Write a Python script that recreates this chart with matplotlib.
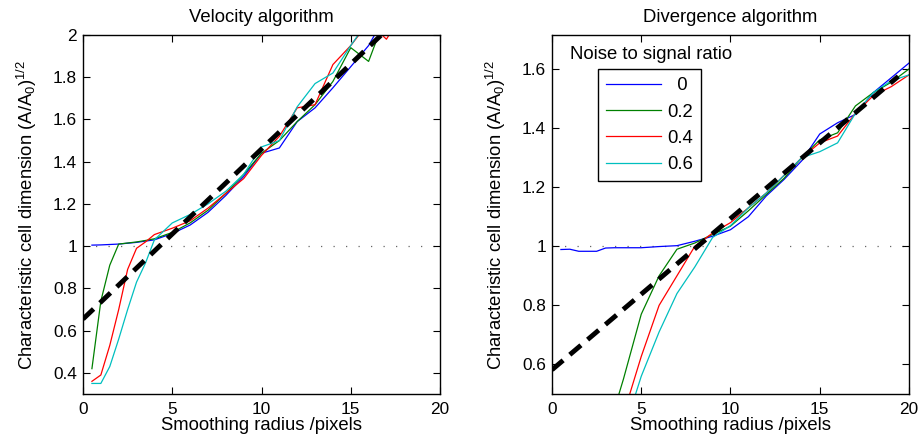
import numpy as np
import matplotlib
matplotlib.use("Agg")
import matplotlib.pyplot as plt

plt.rcParams['font.family'] = ['Liberation Sans', 'DejaVu Sans']
plt.rcParams['mathtext.default'] = 'regular'

nan = np.nan
radius = [0.5, 1, 1.5, 2, 2.5, 3, 3.5, 4, 5, 6, 7, 8, 9, 10, 11, 12, 13, 14, 15, 16, 17, 18, 19, 20]

noise_labels = ['  0', '0.2', '0.4', '0.6']
colors = ['#0000ff', '#008000', '#ff0000', '#00bfbf']

# Velocity algorithm
vel_0 = [1.005, 1.006, 1.008, 1.01, 1.014, 1.018, 1.024, 1.03, 1.06, 1.10, 1.16, 1.24, 1.33, 1.44, 1.465,
         1.59, 1.655, 1.75, 1.85, 1.95, 2.10, 2.20, 2.30, 2.40]
vel_2 = [0.42, 0.74, 0.91, 1.01, 1.015, 1.02, 1.027, 1.035, 1.065, 1.11, 1.17, 1.25, 1.34, 1.44, 1.50,
         1.59, 1.67, 1.78, 1.94, 1.875, 2.10, 2.20, 2.30, 2.40]
vel_4 = [0.36, 0.39, 0.53, 0.70, 0.89, 0.99, 1.02, 1.055, 1.085, 1.12, 1.18, 1.25, 1.32, 1.43, 1.52,
         1.655, 1.67, 1.86, 1.95, 2.06, 1.98, 2.12, 2.25, 2.35]
vel_6 = [0.35, 0.35, 0.43, 0.56, 0.70, 0.83, 0.92, 1.03, 1.11, 1.15, 1.20, 1.26, 1.34, 1.47, 1.50,
         1.66, 1.77, 1.82, 1.95, 2.07, 2.15, 2.25, 2.35, 2.45]
vel_fit_x = [0, 20]
vel_fit_y = [0.655, 2.265]

# Divergence algorithm
div_0 = [0.989, 0.99, 0.983, 0.983, 0.983, 0.994, 0.995, 0.995, 0.995, 0.999, 1.002, 1.017, 1.034, 1.056,
         1.10, 1.17, 1.226, 1.29, 1.38, 1.418, 1.446, 1.52, 1.57, 1.62]
div_2 = [nan, nan, nan, nan, nan, 0.34, 0.45, 0.55, 0.77, 0.90, 0.99, 1.011, 1.04, 1.068, 1.12, 1.175,
         1.23, 1.30, 1.36, 1.384, 1.475, 1.52, 1.555, 1.60]
div_4 = [nan, nan, nan, nan, nan, 0.25, 0.34, 0.43, 0.627, 0.80, 0.90, 1.0, 1.045, 1.08, 1.13, 1.18,
         1.24, 1.30, 1.35, 1.373, 1.45, 1.51, 1.54, 1.58]
div_6 = [nan, nan, nan, nan, nan, 0.20, 0.29, 0.37, 0.56, 0.71, 0.84, 0.93, 1.03, 1.07, 1.13, 1.18,
         1.24, 1.30, 1.32, 1.35, 1.45, 1.52, 1.56, 1.58]
div_fit_x = [0, 19.4]
div_fit_y = [0.582, 1.575]

fig = plt.figure(figsize=(9.2, 4.43), dpi=100)
ax1 = fig.add_axes([83/920, 49/443, 357/920, 359/443])
ax2 = fig.add_axes([552/920, 49/443, 357/920, 359/443])

FS = 13.3
TFS = 12.4


def style(ax, ylim, yticks, title):
    ax.set_xlim(0, 20)
    ax.set_ylim(*ylim)
    ax.set_xticks([0, 5, 10, 15, 20])
    ax.set_yticks(yticks)
    ax.set_yticklabels([('%g' % v) for v in yticks])
    ax.tick_params(direction='in', top=True, right=True, length=5, width=0.8, labelsize=TFS)
    ax.tick_params(axis='x', pad=5.5)
    ax.tick_params(axis='y', pad=4.3)
    for s in ax.spines.values():
        s.set_linewidth(1.0)
    ax.set_xlabel('Smoothing radius /pixels', fontsize=FS, labelpad=0)
    ax.set_ylabel('Characteristic cell dimension (A/A$_0$)$^{1/2}$', fontsize=FS, labelpad=10)
    ax.set_title(title, fontsize=FS, pad=9.6)


for ax, series, fx, fy in [(ax1, [vel_0, vel_2, vel_4, vel_6], vel_fit_x, vel_fit_y),
                          (ax2, [div_0, div_2, div_4, div_6], div_fit_x, div_fit_y)]:
    ax.axhline(1.0, color='0.4', lw=0.9, ls=(0, (1, 9)), zorder=1)
    for y, c, lab in zip(series, colors, noise_labels):
        ax.plot(radius, y, color=c, lw=0.9, label=lab, zorder=2)
    ax.plot(fx, fy, color='black', lw=3.5, ls=(0, (3, 1.8)), zorder=3)

style(ax1, (0.3, 2.0), [0.4, 0.6, 0.8, 1.0, 1.2, 1.4, 1.6, 1.8, 2.0], 'Velocity algorithm')
style(ax2, (0.5, 1.715), [0.6, 0.8, 1.0, 1.2, 1.4, 1.6], 'Divergence algorithm')

leg = ax2.legend(loc='upper left', bbox_to_anchor=(0.128, 0.905), borderaxespad=0, fontsize=FS,
                 handlelength=3.0, labelspacing=0.5, handletextpad=0.3, borderpad=0.45,
                 fancybox=False, framealpha=1, edgecolor='black')
leg.get_frame().set_linewidth(1.0)
ax2.text(0.277, 0.947, 'Noise to signal ratio', transform=ax2.transAxes, ha='center', va='center',
         fontsize=FS)

fig.savefig('out.png', dpi=100)
